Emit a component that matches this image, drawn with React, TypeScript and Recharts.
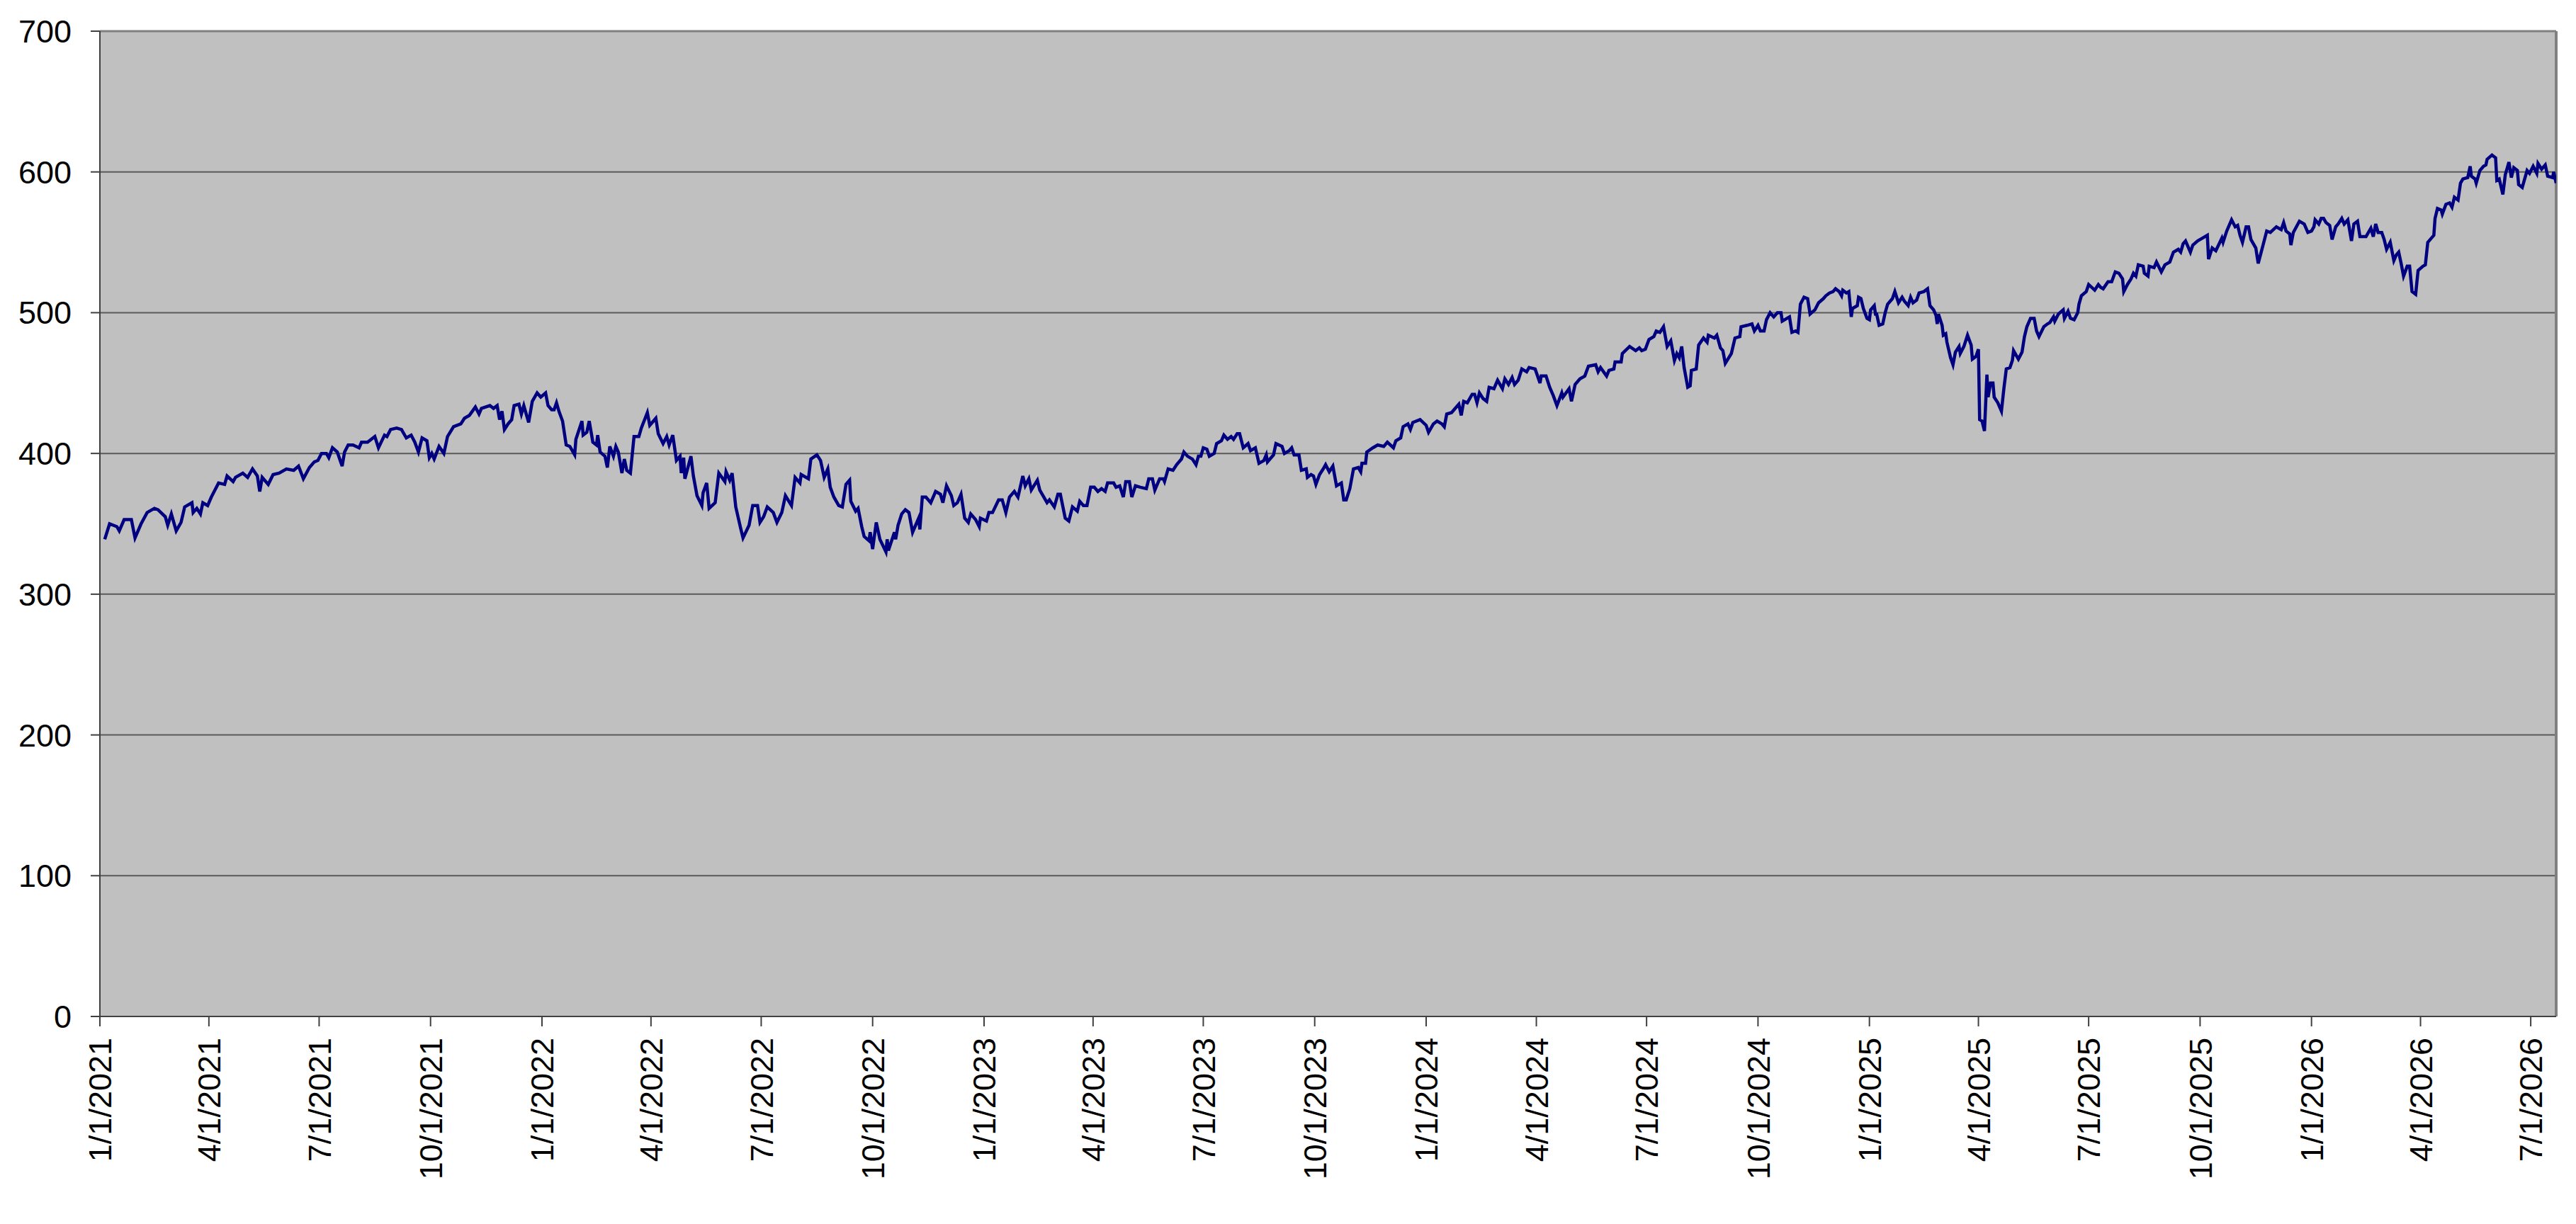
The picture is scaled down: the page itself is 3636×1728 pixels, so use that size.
import { LineChart, Line, XAxis, YAxis, CartesianGrid, ReferenceLine } from "recharts";

// closing values; first number = days since 1/1/2021
const prices2021: [number, number][] = [
  [4, 339], [8, 350], [14, 348], [16, 345], [20, 353], [26, 353], [29, 340], [34, 350], [39, 358], [45, 361],
  [48, 360], [54, 355], [56, 349], [59, 357], [63, 345], [67, 351], [70, 362], [76, 365], [77, 358], [80, 361],
  [83, 357], [85, 365], [89, 363], [92, 369], [95, 374], [98, 379], [103, 378], [105, 384], [110, 380], [112, 383],
  [118, 386], [122, 383], [126, 389], [130, 384], [132, 373], [134, 383], [139, 378], [143, 385], [148, 386], [154, 389],
  [160, 388], [164, 391], [168, 382], [173, 390], [177, 394], [180, 395], [183, 400], [187, 400], [189, 397], [192, 404],
  [196, 401], [200, 391], [202, 401], [205, 406], [209, 406], [214, 404], [216, 408], [221, 408], [227, 412], [230, 404],
  [235, 413], [237, 412], [240, 417], [245, 418], [249, 417], [253, 411], [257, 413], [260, 408], [263, 401], [266, 411],
  [270, 409], [272, 397], [274, 400], [276, 396], [280, 405], [284, 400], [287, 412], [292, 419], [298, 421], [301, 425],
  [305, 427], [310, 433], [313, 428], [315, 432], [322, 434], [325, 432], [328, 434], [330, 424], [332, 430], [334, 417],
  [337, 421], [340, 424], [342, 434], [346, 435], [348, 428], [350, 434], [354, 422], [357, 437], [361, 443], [364, 440],
];

const prices2022: [number, number][] = [
  [368, 443], [370, 434], [373, 431], [375, 431], [377, 436], [379, 430], [382, 423], [385, 406], [388, 405], [392, 399],
  [393, 410], [398, 423], [399, 413], [402, 415], [404, 423], [407, 408], [410, 406], [411, 413], [413, 401], [417, 398],
  [419, 390], [421, 405], [424, 398], [426, 405], [428, 401], [431, 386], [433, 396], [435, 388], [438, 386], [441, 412],
  [445, 412], [447, 418], [452, 429], [454, 420], [459, 425], [461, 414], [465, 407], [468, 412], [470, 406], [473, 413],
  [476, 395], [479, 398], [480, 386], [482, 397], [483, 382], [488, 398], [490, 384], [493, 370], [497, 363], [498, 372],
  [501, 379], [503, 361], [508, 365], [511, 386], [516, 380], [517, 387], [520, 381], [522, 386], [525, 362], [529, 347],
  [531, 340], [536, 349], [539, 363], [543, 363], [545, 351], [548, 355], [551, 362], [556, 358], [559, 351], [563, 358],
  [566, 370], [571, 363], [574, 383], [578, 379], [579, 385], [585, 382], [587, 396], [592, 399], [595, 395], [598, 383],
  [601, 389], [603, 376], [606, 369], [610, 363], [613, 362], [616, 378], [619, 381], [620, 366], [624, 359], [626, 361],
  [629, 348], [631, 341], [635, 338], [636, 344], [638, 332], [641, 351], [644, 339], [649, 330], [650, 339], [651, 331],
  [656, 344], [657, 339], [659, 349], [662, 357], [665, 360], [668, 358], [671, 344], [676, 354], [677, 346], [679, 369],
  [682, 369], [686, 365], [689, 371], [690, 373], [694, 371], [696, 365], [699, 377], [703, 370], [705, 363], [708, 365],
  [711, 371], [714, 354], [717, 351], [719, 357], [723, 353], [726, 348], [727, 354],
];

const prices2023: [number, number][] = [
  [732, 352], [734, 358], [737, 358], [742, 367], [745, 367], [748, 358], [751, 369], [755, 373], [758, 369], [762, 384],
  [764, 377], [767, 382], [769, 374], [774, 381], [776, 374], [782, 365], [784, 367], [788, 362], [791, 371], [793, 371],
  [797, 354], [800, 352], [803, 362], [807, 359], [809, 366], [812, 363], [815, 363], [818, 376], [821, 376], [824, 373],
  [827, 375], [830, 373], [832, 379], [837, 379], [839, 376], [842, 377], [845, 369], [847, 380], [850, 380], [852, 369],
  [855, 377], [859, 376], [864, 375], [866, 382], [869, 382], [871, 374], [875, 382], [878, 382], [879, 380], [882, 389],
  [886, 388], [889, 392], [893, 396], [895, 401], [898, 398], [902, 396], [905, 392], [907, 398], [909, 398], [911, 404],
  [914, 403], [916, 398], [920, 400], [922, 407], [926, 409], [928, 413], [931, 410], [934, 412], [936, 410], [939, 414],
  [941, 414], [944, 404], [948, 407], [950, 402], [954, 404], [957, 393], [961, 395], [963, 399], [964, 394], [969, 399],
  [971, 407], [976, 405], [978, 400], [982, 402], [984, 404], [986, 399], [990, 399], [992, 388], [996, 389], [997, 383],
  [1000, 385], [1002, 384], [1004, 378], [1007, 385], [1010, 389], [1012, 392], [1015, 387], [1018, 391], [1021, 377], [1025, 379],
  [1027, 367], [1029, 367], [1032, 375], [1035, 389], [1039, 390], [1041, 387], [1042, 393], [1045, 393], [1046, 401], [1051, 404],
  [1055, 406], [1060, 405], [1063, 408], [1068, 404], [1070, 409], [1074, 411], [1076, 419], [1080, 421], [1082, 417], [1084, 422],
  [1090, 424],
];

const prices2024: [number, number][] = [
  [1095, 420], [1097, 415], [1101, 421], [1104, 423], [1108, 421], [1110, 419], [1112, 428], [1116, 429], [1119, 432], [1122, 435],
  [1124, 427], [1126, 437], [1129, 436], [1133, 442], [1135, 442], [1137, 436], [1139, 443], [1142, 439], [1145, 437], [1147, 447],
  [1151, 446], [1154, 452], [1158, 446], [1160, 453], [1163, 449], [1166, 454], [1168, 449], [1171, 452], [1174, 460], [1178, 458],
  [1180, 461], [1185, 460], [1189, 450], [1190, 455], [1194, 455], [1197, 447], [1200, 441], [1203, 434], [1207, 443], [1208, 440],
  [1213, 446], [1215, 437], [1218, 449], [1222, 453], [1226, 455], [1229, 462], [1235, 463], [1237, 458], [1239, 461], [1244, 455],
  [1246, 459], [1250, 460], [1251, 465], [1256, 465], [1257, 471], [1263, 476], [1268, 473], [1271, 475], [1273, 473], [1276, 474],
  [1279, 481], [1283, 483], [1285, 487], [1288, 486], [1291, 490], [1294, 476], [1297, 480], [1300, 466], [1302, 471], [1304, 468],
  [1306, 476], [1308, 461], [1311, 447], [1313, 448], [1314, 459], [1318, 460], [1320, 477], [1324, 482], [1327, 479], [1328, 484],
  [1333, 482], [1335, 484], [1338, 475], [1340, 473], [1342, 464], [1347, 471], [1350, 482], [1354, 483], [1355, 490], [1360, 491],
  [1364, 492], [1366, 487], [1369, 491], [1371, 487], [1374, 487], [1376, 495], [1379, 500], [1382, 497], [1385, 500], [1388, 500],
  [1389, 494], [1395, 497], [1397, 486], [1400, 487], [1402, 486], [1404, 506], [1407, 511], [1410, 510], [1412, 499], [1416, 502],
  [1419, 507], [1423, 510], [1425, 512], [1428, 514], [1431, 515], [1433, 517], [1436, 515], [1438, 512], [1439, 516], [1442, 514],
  [1444, 515], [1446, 497], [1447, 503], [1451, 505], [1452, 511], [1454, 510], [1456, 503], [1459, 496],
];

const prices2025: [number, number][] = [
  [1461, 495], [1462, 502], [1465, 505], [1466, 499], [1467, 499], [1469, 491], [1472, 492], [1474, 500], [1476, 506], [1480, 510],
  [1482, 515], [1485, 507], [1488, 511], [1490, 508], [1493, 505], [1495, 511], [1497, 507], [1500, 509], [1502, 514], [1506, 515],
  [1509, 517], [1511, 505], [1514, 502], [1516, 498], [1517, 492], [1518, 499], [1521, 491], [1522, 484], [1524, 485], [1525, 479],
  [1528, 468], [1530, 463], [1532, 472], [1535, 476], [1536, 471], [1539, 476], [1542, 484], [1545, 477], [1546, 467], [1549, 469],
  [1551, 474], [1552, 424], [1554, 423], [1556, 416], [1558, 456], [1559, 440], [1561, 450], [1563, 450], [1564, 440], [1567, 436],
  [1570, 430], [1572, 446], [1574, 460], [1577, 461], [1579, 466], [1580, 473], [1584, 467], [1587, 472], [1589, 483], [1591, 490],
  [1594, 496], [1597, 496], [1599, 487], [1601, 483], [1605, 490], [1608, 492], [1610, 493], [1613, 497], [1614, 494], [1617, 499],
  [1621, 502], [1622, 496], [1625, 501], [1627, 496], [1630, 495], [1633, 500], [1634, 506], [1636, 512], [1640, 515], [1642, 520],
  [1647, 516], [1650, 520], [1652, 518], [1654, 517], [1658, 522], [1661, 522], [1664, 529], [1667, 528], [1670, 524], [1671, 515],
  [1674, 520], [1677, 524], [1679, 528], [1681, 526], [1683, 534], [1687, 533], [1688, 528], [1691, 526], [1692, 533], [1696, 532],
  [1698, 536], [1702, 529], [1705, 534], [1709, 536], [1712, 543], [1716, 545], [1718, 543], [1720, 549], [1722, 551], [1726, 543],
  [1728, 548], [1732, 551], [1736, 553], [1740, 555], [1741, 538], [1744, 546], [1747, 544], [1752, 553], [1753, 550], [1756, 558],
  [1760, 566], [1763, 561], [1765, 562], [1767, 555], [1769, 550], [1772, 561], [1774, 561], [1776, 552], [1780, 546], [1782, 535],
  [1786, 548], [1789, 558], [1792, 557], [1797, 561], [1801, 559], [1803, 564], [1805, 558], [1808, 556], [1809, 548], [1811, 557],
  [1816, 565], [1820, 563], [1823, 557],
];

const prices2026: [number, number][] = [
  [1826, 558], [1828, 561], [1829, 566], [1832, 563], [1834, 567], [1836, 567], [1838, 564], [1841, 562], [1843, 552], [1846, 561],
  [1848, 563], [1851, 567], [1853, 563], [1856, 566], [1859, 551], [1861, 563], [1864, 565], [1866, 554], [1871, 554], [1873, 557],
  [1875, 560], [1877, 554], [1879, 563], [1881, 557], [1884, 557], [1886, 552], [1888, 545], [1891, 550], [1894, 537], [1896, 541],
  [1898, 543], [1900, 535], [1902, 526], [1905, 533], [1907, 533], [1909, 515], [1912, 513], [1914, 530], [1918, 533], [1920, 534],
  [1922, 550], [1924, 552], [1927, 555], [1928, 567], [1930, 574], [1933, 573], [1934, 570], [1937, 577], [1940, 578], [1942, 575],
  [1944, 582], [1947, 580], [1949, 592], [1951, 595], [1955, 596], [1957, 604], [1958, 597], [1961, 595], [1962, 592], [1965, 601],
  [1968, 604], [1970, 605], [1971, 609], [1975, 612], [1978, 610], [1979, 594], [1981, 595], [1984, 584], [1986, 598], [1989, 607],
  [1991, 596], [1993, 603], [1996, 601], [1997, 591], [2000, 589], [2004, 601], [2006, 599], [2009, 604], [2012, 599], [2013, 606],
  [2016, 602], [2019, 605], [2021, 597], [2025, 596], [2026, 600], [2028, 592],
];

const dateTicks = [
  "1/1/2021", "4/1/2021", "7/1/2021", "10/1/2021",
  "1/1/2022", "4/1/2022", "7/1/2022", "10/1/2022",
  "1/1/2023", "4/1/2023", "7/1/2023", "10/1/2023",
  "1/1/2024", "4/1/2024", "7/1/2024", "10/1/2024",
  "1/1/2025", "4/1/2025", "7/1/2025", "10/1/2025",
  "1/1/2026", "4/1/2026", "7/1/2026",
];
const valueTicks = [0, 100, 200, 300, 400, 500, 600, 700];

const DAY = 86400000;
const START = Date.UTC(2021, 0, 1);
const END_DAY = 2028;

const parseDate = (s: string) => {
  const [m, d, y] = s.split("/").map(Number);
  return Date.UTC(y, m - 1, d);
};
const fmtDate = (t: number) => {
  const d = new Date(t);
  return `${d.getUTCMonth() + 1}/${d.getUTCDate()}/${d.getUTCFullYear()}`;
};

const data = [...prices2021, ...prices2022, ...prices2023, ...prices2024, ...prices2025, ...prices2026].map(
  ([day, v]) => ({ t: START + day * DAY, v })
);

const FONT = "'Liberation Sans', Arial, sans-serif";

function DateTick(props: any) {
  const { x, y, payload } = props;
  return (
    <text
      x={x}
      y={y}
      transform={`rotate(-90 ${x} ${y})`}
      textAnchor="end"
      dy="0.36em"
      fontSize={45}
      fontFamily={FONT}
      fill="#000"
    >
      {fmtDate(payload.value)}
    </text>
  );
}

export default function App() {
  const endT = START + END_DAY * DAY;
  return (
    <LineChart
      width={3620}
      height={1712}
      data={data}
      margin={{ top: 36, right: 20, bottom: 0, left: 0 }}
      style={{ background: "#fff" }}
    >
      <CartesianGrid fill="#c0c0c0" vertical={false} stroke="#5a5a5a" strokeWidth={2} />
      <XAxis
        dataKey="t"
        type="number"
        domain={[START, endT]}
        allowDataOverflow
        ticks={dateTicks.map(parseDate)}
        interval={0}
        tick={<DateTick />}
        tickSize={14}
        tickMargin={16}
        height={285}
        axisLine={{ stroke: "#404040", strokeWidth: 2 }}
        tickLine={{ stroke: "#404040", strokeWidth: 2 }}
      />
      <YAxis
        type="number"
        domain={[0, 700]}
        ticks={valueTicks}
        interval={0}
        width={133}
        tickSize={13}
        tickMargin={27}
        tick={{ fontSize: 45, fill: "#000", fontFamily: FONT }}
        axisLine={{ stroke: "#404040", strokeWidth: 2 }}
        tickLine={{ stroke: "#404040", strokeWidth: 2 }}
      />
      <ReferenceLine y={700} stroke="#808080" strokeWidth={3} />
      <ReferenceLine x={endT} stroke="#808080" strokeWidth={4} />
      <Line
        dataKey="v"
        type="linear"
        stroke="#000080"
        strokeWidth={4.5}
        dot={false}
        isAnimationActive={false}
      />
    </LineChart>
  );
}
